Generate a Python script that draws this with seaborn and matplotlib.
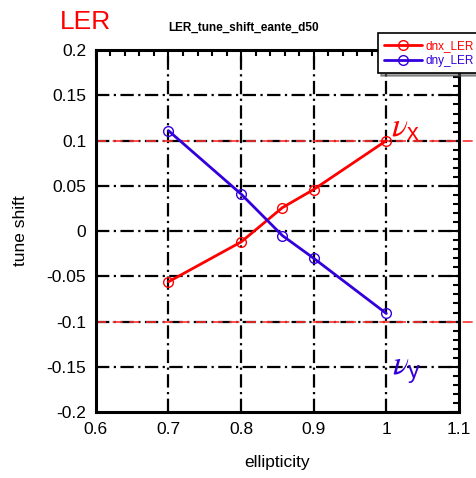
import matplotlib
matplotlib.use("Agg")
import matplotlib.pyplot as plt
import seaborn as sns
import pandas as pd
import numpy as np
from matplotlib.ticker import MultipleLocator
from matplotlib.lines import Line2D

sns.set_theme(style="white")
plt.rcParams['font.family'] = ['Liberation Sans', 'DejaVu Sans']
plt.rcParams['mathtext.fontset'] = 'custom'
plt.rcParams['mathtext.it'] = 'STIXGeneral:italic'
plt.rcParams['mathtext.rm'] = 'STIXGeneral'
plt.rcParams['mathtext.sf'] = 'Liberation Sans'

ellipticity = [0.7, 0.8, 0.857, 0.9, 1.0]
dnx_LER = [-0.056, -0.012, 0.026, 0.046, 0.100]
dny_LER = [0.111, 0.041, -0.005, -0.030, -0.091]
series_names = ["dnx_LER", "dny_LER"]
colors = ["#ff0000", "#3300dd"]

df = pd.DataFrame({
    "ellipticity": ellipticity * 2,
    "tune shift": dnx_LER + dny_LER,
    "series": [series_names[0]] * len(ellipticity) + [series_names[1]] * len(ellipticity),
})

fig = plt.figure(figsize=(4.77, 4.78), dpi=100)
ax = fig.add_axes([0.201, 0.138, 0.761, 0.757])

sns.lineplot(data=df, x="ellipticity", y="tune shift", hue="series",
             palette=colors, marker="o", markersize=7, markerfacecolor="none",
             markeredgewidth=1.0, linewidth=2, ax=ax, legend=False, zorder=5)
for line, c in zip(ax.get_lines(), colors):
    line.set_markeredgecolor(c)

ax.set_xlim(0.6, 1.1)
ax.set_ylim(-0.2, 0.2)
ax.xaxis.set_minor_locator(MultipleLocator(0.02))
ax.yaxis.set_minor_locator(MultipleLocator(0.01))
ax.set_xticks([0.6, 0.7, 0.8, 0.9, 1.0, 1.1])
ax.set_xticklabels(["0.6", "0.7", "0.8", "0.9", "1", "1.1"])
yt = [-0.2, -0.15, -0.1, -0.05, 0, 0.05, 0.1, 0.15, 0.2]
ax.set_yticks(yt)
ax.set_yticklabels(["-0.2", "-0.15", "-0.1", "-0.05", "0", "0.05", "0.1", "0.15", "0.2"])

ax.tick_params(which="both", direction="in", top=True, right=True, colors="black",
               labelsize=12.5, width=1.5)
ax.tick_params(which="major", length=8, pad=7)
ax.tick_params(which="minor", length=4)
for s in ax.spines.values():
    s.set_color("black")
    s.set_linewidth(2.2)

for xv in [0.7, 0.8, 0.9, 1.0]:
    ax.axvline(xv, color="black", lw=1.6, ls=(0, (6, 2, 1, 2)), zorder=1)
for yv in yt[1:-1]:
    ax.axhline(yv, color="black", lw=1.6, ls=(0, (6, 2, 1, 2)), zorder=1)

for yv in [0.1, -0.1]:
    ax.axhline(yv, xmin=0, xmax=1.1, color="#ff3030", lw=1.2, ls=(0, (6, 4)),
               clip_on=False, zorder=2)

ax.set_xlabel("ellipticity", fontsize=12.5, color="black", labelpad=13)
ax.set_ylabel("tune shift", fontsize=12.5, color="black", labelpad=13)

ax.text(1.006, 0.105, r"$\nu_{\mathsf{x}}$", color="#ff0000", fontsize=24, zorder=6)
ax.text(1.008, -0.158, r"$\nu_{\mathsf{y}}$", color="#3300dd", fontsize=24, zorder=6)

fig.text(0.125, 0.955, "LER", color="#ff0000", fontsize=19, ha="left", va="center")
fig.text(0.51, 0.942, "LER_tune_shift_eante_d50", color="black", fontsize=8.5,
         fontweight="bold", ha="center", va="center")

handles = [Line2D([], [], color=c, lw=2, marker="o", markersize=7,
                  markerfacecolor="none", markeredgecolor=c) for c in colors]
leg = fig.legend(handles, series_names, loc="upper left",
                 bbox_to_anchor=(0.792, 0.93), frameon=True, fancybox=False,
                 shadow=True, fontsize=8.5, handlelength=3.2, borderpad=0.55,
                 labelspacing=0.25, handletextpad=0.3, borderaxespad=0)
leg.get_frame().set_edgecolor("black")
leg.get_frame().set_linewidth(1.2)
for t, c in zip(leg.get_texts(), colors):
    t.set_color(c)

fig.savefig("out.png", dpi=100, facecolor="white")
